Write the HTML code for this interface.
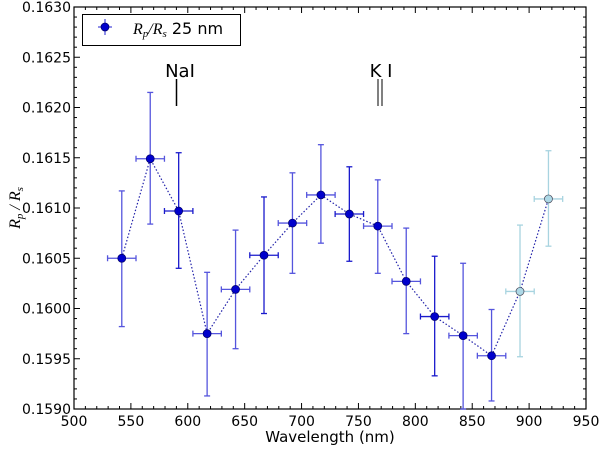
<!DOCTYPE html>
<html><head><meta charset="utf-8"><style>
body{margin:0;background:#fff}
svg{font-family:"DejaVu Sans","Liberation Sans",sans-serif}
</style></head><body>
<svg id="c" width="600" height="446"></svg>
<script>
const wavelengths=[542,567,592,617,642,667,692,717,742,767,792,817,842,867,892,917];
const ratios=[0.16050,0.16149,0.16097,0.15975,0.16019,0.16053,0.16085,0.16113,0.16094,0.16082,0.16027,0.15992,0.15973,0.15953,0.16017,0.16109];
const errUp=[0.00067,0.00066,0.00058,0.00061,0.00059,0.00058,0.00050,0.00050,0.00047,0.00046,0.00053,0.00060,0.00072,0.00046,0.00066,0.00048];
const errDown=[0.00068,0.00065,0.00057,0.00062,0.00059,0.00058,0.00050,0.00048,0.00047,0.00047,0.00052,0.00059,0.00073,0.00045,0.00065,0.00047];
const xErr=12.5;
const lightFlags=[0,0,0,0,0,0,0,0,0,0,0,0,0,0,1,1];
const xTicks=[500,550,600,650,700,750,800,850,900,950];
const yTicks=["0.1590","0.1595","0.1600","0.1605","0.1610","0.1615","0.1620","0.1625","0.1630"];
const L=74,R=586,T=7,B=409;
const X=v=>L+(v-500)/450*(R-L);
const Y=v=>B-(v-0.159)/0.004*(B-T);
const svg=document.getElementById('c');const NS='http://www.w3.org/2000/svg';
function el(t,a,p){const e=document.createElementNS(NS,t);for(const k in a)e.setAttribute(k,a[k]);(p||svg).appendChild(e);return e;}
let f=el('rect',{x:L,y:T,width:R-L,height:B-T,fill:'none',stroke:'#000','stroke-width':1.2});

for(let v=500;v<=950;v+=10){const x=X(v),len=v%50==0?6:3;
 el('line',{x1:x,y1:B,x2:x,y2:B-len,stroke:'#000'});el('line',{x1:x,y1:T,x2:x,y2:T+len,stroke:'#000'});}
for(let i=0;i<=40;i++){const y=Y(0.159+i*0.0001),len=i%5==0?6:3;
 el('line',{x1:L,y1:y,x2:L+len,y2:y,stroke:'#000'});el('line',{x1:R,y1:y,x2:R-len,y2:y,stroke:'#000'});}
xTicks.forEach(v=>{const t=el('text',{x:X(v),y:B+17,'font-size':14,'text-anchor':'middle'});t.textContent=v;
 });
yTicks.forEach(v=>{const t=el('text',{x:L-3,y:Y(+v)+5,'font-size':14,'text-anchor':'end'});t.textContent=v;
 });
let xt=el('text',{x:330,y:442,'font-size':15,'text-anchor':'middle'});xt.textContent='Wavelength (nm)';

let yt=el('text',{x:0,y:0,'font-size':16,'font-style':'italic','font-family':'Liberation Serif,serif',transform:'translate(20,208) rotate(-90)','text-anchor':'middle'});
yt.innerHTML='R<tspan font-size="11" dy="3">p</tspan><tspan dy="-3"> / R</tspan><tspan font-size="11" dy="3">s</tspan>';

let pts=wavelengths.map((w,i)=>X(w)+','+Y(ratios[i])).join(' ');
let pl=el('polyline',{points:pts,fill:'none',stroke:'#2222aa','stroke-width':1.2,'stroke-dasharray':'1.5,2'});

wavelengths.forEach((w,i)=>{
 const g=el('g',{});
 const c=lightFlags[i]?'#a8d4e0':(i%3==2?'#1a1acc':'#5555dd');
 const x=X(w),y=Y(ratios[i]),y1=Y(ratios[i]+errUp[i]),y2=Y(ratios[i]-errDown[i]),x1=X(w-xErr),x2=X(w+xErr);
 el('line',{x1:x,y1:y1,x2:x,y2:y2,stroke:c,'stroke-width':1.3},g);
 el('line',{x1:x-3,y1:y1,x2:x+3,y2:y1,stroke:c,'stroke-width':1.3},g);
 el('line',{x1:x-3,y1:y2,x2:x+3,y2:y2,stroke:c,'stroke-width':1.3},g);
 el('line',{x1:x1,y1:y,x2:x2,y2:y,stroke:c,'stroke-width':1.3},g);
 el('line',{x1:x1,y1:y-3,x2:x1,y2:y+3,stroke:c,'stroke-width':1.3},g);
 el('line',{x1:x2,y1:y-3,x2:x2,y2:y+3,stroke:c,'stroke-width':1.3},g);
 el('circle',{cx:x,cy:y,r:4,fill:lightFlags[i]?'#add8e6':'#0000cc',stroke:lightFlags[i]?'#445':'#000066','stroke-width':0.7},g);
});
let na=el('text',{x:180,y:77,'font-size':18,'text-anchor':'middle'});na.textContent='NaI';

el('line',{x1:176.5,y1:79,x2:176.5,y2:106,stroke:'#000','stroke-width':1.5});
let ki=el('text',{x:381,y:77,'font-size':18,'text-anchor':'middle'});ki.textContent='K I';

el('line',{x1:378,y1:79,x2:378,y2:106,stroke:'#000','stroke-width':1});
el('line',{x1:382,y1:79,x2:382,y2:106,stroke:'#000','stroke-width':1});
const lg=el('g',{});
el('rect',{x:82.5,y:14.5,width:158,height:31,fill:'#fff',stroke:'#000','stroke-width':1},lg);
el('line',{x1:98,y1:27,x2:112,y2:27,stroke:'#5555dd','stroke-width':1.3},lg);
el('line',{x1:105,y1:19,x2:105,y2:35,stroke:'#5555dd','stroke-width':1.3},lg);
el('circle',{cx:105,cy:27,r:4,fill:'#0000cc',stroke:'#000066','stroke-width':0.7},lg);
let lt=el('text',{x:133,y:34,'font-size':16},lg);
lt.innerHTML='<tspan font-family="Liberation Serif,serif" font-style="italic">R<tspan font-size="11" dy="3">p</tspan><tspan dy="-3">/R</tspan><tspan font-size="11" dy="3">s</tspan></tspan><tspan dy="-3"> 25 nm</tspan>';
</script>
</body></html>
